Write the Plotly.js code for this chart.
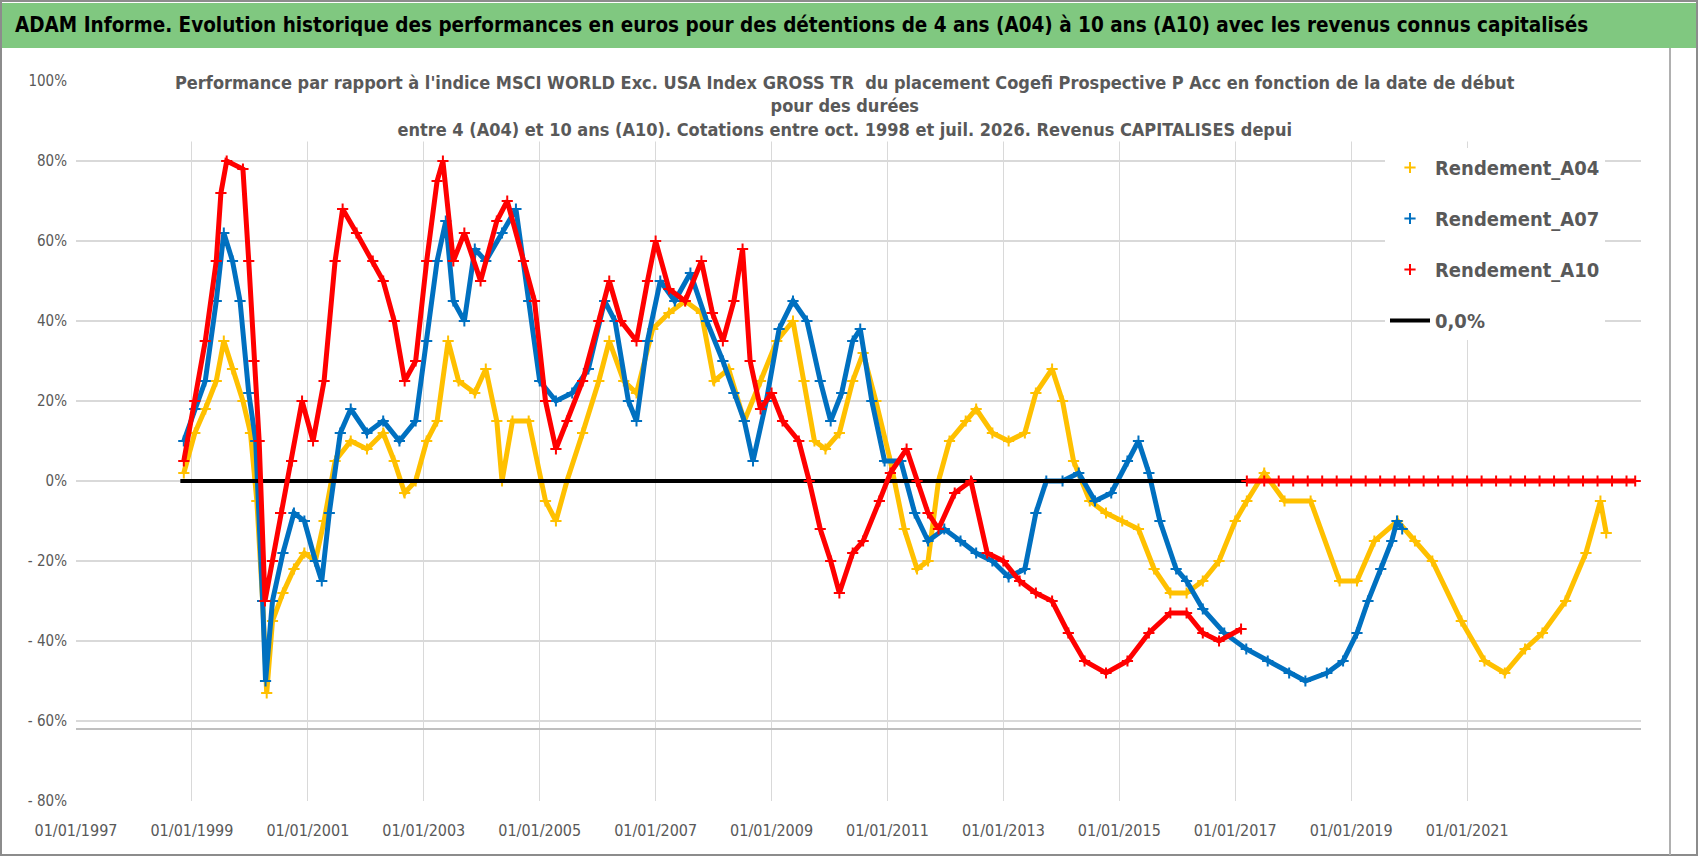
<!DOCTYPE html>
<html>
<head>
<meta charset="utf-8">
<script src="https://cdn.plot.ly/plotly-3.0.1.min.js"></script>
<style>body{margin:0;background:#fff}#chart{width:1698px;height:856px}</style>
</head>
<body>
<div id="chart"></div>
<script>
// values, x in decimal years, y in %
var a04X = [1998.86,1999.05,1999.23,1999.42,1999.55,1999.7,1999.88,2000.01,2000.12,2000.22,2000.29,2000.39,2000.57,2000.76,2000.94,2001.13,2001.28,2001.47,2001.74,2002.02,2002.3,2002.49,2002.67,2002.86,2003.05,2003.23,2003.42,2003.6,2003.88,2004.07,2004.26,2004.35,2004.53,2004.81,2005.1,2005.28,2005.47,2005.74,2006.02,2006.2,2006.45,2006.67,2006.95,2007.23,2007.51,2007.79,2008.01,2008.26,2008.53,2008.81,2009.09,2009.37,2009.56,2009.74,2009.93,2010.17,2010.4,2010.58,2010.8,2011.05,2011.29,2011.51,2011.7,2011.88,2012.07,2012.35,2012.53,2012.81,2013.09,2013.37,2013.56,2013.84,2014.02,2014.21,2014.49,2014.77,2015.05,2015.33,2015.6,2015.88,2016.16,2016.44,2016.72,2017.0,2017.2,2017.5,2017.85,2018.3,2018.8,2019.1,2019.4,2019.8,2020.1,2020.4,2020.9,2021.3,2021.65,2022.0,2022.3,2022.7,2023.05,2023.3,2023.4];
var a04Y = [2,12,18,25,35,28,20,12,-5,-30,-53,-35,-28,-22,-18,-20,-10,5,10,8,12,5,-3,0,10,15,35,25,22,28,15,0,15,15,-5,-10,0,12,25,35,25,22,38,42,45,42,25,28,15,25,35,40,25,10,8,12,25,32,20,5,-12,-22,-20,0,10,15,18,12,10,12,22,28,20,5,-5,-8,-10,-12,-22,-28,-28,-25,-20,-10,-5,2,-5,-5,-25,-25,-15,-10,-15,-20,-35,-45,-48,-42,-38,-30,-18,-5,-13];

var a07X = [1998.86,1999.05,1999.23,1999.42,1999.55,1999.7,1999.83,1999.98,2000.1,2000.22,2000.27,2000.39,2000.57,2000.76,2000.94,2001.13,2001.24,2001.37,2001.56,2001.74,2002.02,2002.3,2002.58,2002.86,2003.05,2003.23,2003.38,2003.51,2003.7,2003.88,2004.07,2004.35,2004.59,2004.81,2005.0,2005.28,2005.56,2005.84,2006.12,2006.3,2006.53,2006.67,2006.86,2007.08,2007.33,2007.6,2007.88,2008.16,2008.35,2008.53,2008.68,2008.91,2009.13,2009.37,2009.61,2009.84,2010.02,2010.21,2010.4,2010.53,2010.73,2010.95,2011.23,2011.47,2011.7,2011.98,2012.26,2012.53,2012.81,2013.09,2013.37,2013.56,2013.74,2014.02,2014.3,2014.58,2014.86,2015.14,2015.33,2015.51,2015.7,2015.98,2016.16,2016.44,2016.81,2017.19,2017.56,2017.93,2018.21,2018.58,2018.86,2019.1,2019.29,2019.51,2019.7,2019.79,2019.88];
var a07Y = [10,18,25,45,62,55,45,22,10,-30,-50,-30,-18,-8,-10,-20,-25,-8,12,18,12,15,10,15,35,55,65,45,40,58,55,62,68,45,25,20,22,28,45,40,20,15,35,50,45,52,40,30,22,15,5,20,38,45,40,25,15,22,35,38,20,5,5,-8,-15,-12,-15,-18,-20,-24,-22,-8,0,0,2,-5,-3,5,10,2,-10,-22,-25,-32,-38,-42,-45,-48,-50,-48,-45,-38,-30,-22,-15,-10,-12];

var a10X = [1998.86,1999.05,1999.23,1999.42,1999.5,1999.6,1999.88,1999.98,2000.07,2000.16,2000.26,2000.39,2000.53,2000.72,2000.9,2001.09,2001.28,2001.47,2001.6,2001.84,2002.12,2002.3,2002.49,2002.67,2002.86,2003.05,2003.23,2003.33,2003.51,2003.7,2003.98,2004.26,2004.44,2004.72,2004.91,2005.1,2005.28,2005.47,2005.74,2006.02,2006.2,2006.4,2006.67,2006.86,2007.0,2007.23,2007.51,2007.79,2007.98,2008.16,2008.35,2008.5,2008.63,2008.81,2009.0,2009.19,2009.47,2009.65,2009.84,2010.02,2010.17,2010.4,2010.58,2010.86,2011.05,2011.33,2011.51,2011.7,2011.88,2012.16,2012.44,2012.72,2013.0,2013.28,2013.56,2013.84,2014.12,2014.4,2014.77,2015.14,2015.51,2015.88,2016.16,2016.44,2016.72,2017.1];
var a10Y = [5,20,35,55,72,80,78,55,30,10,-30,-20,-8,5,20,10,25,55,68,62,55,50,40,25,30,55,75,80,55,62,50,65,70,55,45,20,8,15,25,40,50,40,35,50,60,48,45,55,42,35,45,58,30,18,22,15,10,0,-12,-20,-28,-18,-15,-5,2,8,0,-8,-12,-3,0,-18,-20,-25,-28,-30,-38,-45,-48,-45,-38,-33,-33,-38,-40,-37];
// A10 after mid-2017: flat at 0
var a10ZeroX = [2017.2,2017.5,2017.75,2018.0,2018.25,2018.5,2018.75,2019.0,2019.25,2019.5,2019.75,2020.0,2020.25,2020.5,2020.75,2021.0,2021.25,2021.5,2021.75,2022.0,2022.25,2022.5,2022.75,2023.0,2023.25,2023.5,2023.75,2023.9];
var a10ZeroY = [0,0,0,0,0,0,0,0,0,0,0,0,0,0,0,0,0,0,0,0,0,0,0,0,0,0,0,0];

var zeroX = [1998.8, 2023.9];
var zeroY = [0, 0];

var xTickVals = [1997,1999,2001,2003,2005,2007,2009,2011,2013,2015,2017,2019,2021];
var xTickText = ['01/01/1997','01/01/1999','01/01/2001','01/01/2003','01/01/2005','01/01/2007','01/01/2009','01/01/2011','01/01/2013','01/01/2015','01/01/2017','01/01/2019','01/01/2021'];
var yTickVals = [100,80,60,40,20,0,-20,-40,-60,-80];
var yTickText = ['100%','80%','60%','40%','20%','0%','- 20%','- 40%','- 60%','- 80%'];

var mainTitle = 'ADAM Informe. Evolution historique des performances en euros pour des détentions de 4 ans (A04) à 10 ans (A10) avec les revenus connus capitalisés';
var subTitle = "Performance par rapport à l'indice MSCI WORLD Exc. USA Index GROSS TR  du placement Cogefi Prospective P Acc en fonction de la date de début<br>pour des durées<br>entre 4 (A04) et 10 ans (A10). Cotations entre oct. 1998 et juil. 2026. Revenus CAPITALISES depui";

var W = 1698, H = 856;
var M = {l: 76, r: 57, t: 81, b: 55};
var pw = W - M.l - M.r, ph = H - M.t - M.b;
function px(x) { return (x - M.l) / pw }
function py(y) { return 1 - (y - M.t) / ph }

var yellow = '#FFC000', blue = '#0070C0', red = '#FF0000';
var font = 'DejaVu Sans Condensed, sans-serif';

function band(name, xs, ys, color) {
    return {x: xs, y: ys, name: name, type: 'scatter', mode: 'lines', showlegend: false,
        line: {color: color, width: 5}, hoverinfo: 'skip', legendgroup: name}
}
function pts(name, xs, ys, color, show) {
    return {x: xs, y: ys, name: name, type: 'scatter', mode: 'markers', legendgroup: name,
        showlegend: show !== false,
        marker: {symbol: 'cross-thin', size: 8, line: {color: color, width: 2}, color: color}}
}

var data = [
    band('Rendement_A04', a04X, a04Y, yellow),
    pts('Rendement_A04', a04X, a04Y, yellow),
    band('Rendement_A07', a07X, a07Y, blue),
    pts('Rendement_A07', a07X, a07Y, blue),
    {x: zeroX, y: zeroY, name: '0,0%', type: 'scatter', mode: 'lines', legendgroup: 'zero',
        line: {color: '#000', width: 4}, legendrank: 1004},
    band('Rendement_A10', a10X, a10Y, red),
    pts('Rendement_A10', a10X, a10Y, red),
    band('Rendement_A10', a10ZeroX, a10ZeroY, red),
    pts('Rendement_A10', a10ZeroX, a10ZeroY, red, false)
];
data[1].legendrank = 1001; data[3].legendrank = 1002; data[6].legendrank = 1003;

var layout = {
    width: W, height: H, margin: M,
    paper_bgcolor: '#fff', plot_bgcolor: '#fff',
    font: {family: font, color: '#595959'},
    showlegend: true,
    legend: {x: px(1385), y: py(148), xanchor: 'left', yanchor: 'top', bgcolor: '#fff',
        font: {size: 20, color: '#595959', family: font, weight: 'bold'},
        tracegroupgap: 22, itemwidth: 40},
    xaxis: {range: [1997, 2024], tickvals: xTickVals, ticktext: xTickText, showgrid: true,
        gridcolor: '#d9d9d9', gridwidth: 1, zeroline: false, showline: false, ticks: '',
        ticklabelstandoff: 18, tickfont: {size: 16, color: '#595959'}},
    yaxis: {range: [-80, 100], tickvals: yTickVals, ticktext: yTickText, showgrid: true,
        gridcolor: '#d9d9d9', gridwidth: 2, zeroline: false, showline: false, ticks: '',
        ticklabelstandoff: 8, tickfont: {size: 15, color: '#595959'}},
    shapes: [
        {type: 'rect', xref: 'paper', yref: 'paper', x0: px(0), x1: px(W), y0: py(48), y1: py(3),
            fillcolor: '#80c880', line: {width: 0}, layer: 'below'},
        {type: 'rect', xref: 'paper', yref: 'paper', x0: px(1), x1: px(W - 1), y0: py(H - 1), y1: py(1),
            line: {color: '#8c8c8c', width: 2}},
        {type: 'line', xref: 'paper', yref: 'paper', x0: px(1670), x1: px(1670), y0: py(H - 1), y1: py(48),
            line: {color: '#b0b0b0', width: 2}},
        {type: 'line', xref: 'paper', yref: 'y', x0: 0, x1: 1, y0: -62, y1: -62,
            line: {color: '#bfbfbf', width: 2}}
    ],
    annotations: [
        {text: '<b>' + mainTitle + '</b>', xref: 'paper', yref: 'paper', x: px(13), y: py(25),
            xanchor: 'left', yanchor: 'middle', showarrow: false,
            font: {size: 20.5, color: '#000', family: font}},
        {text: '<b>' + subTitle + '</b>', xref: 'paper', yref: 'paper', x: px(845), y: py(70),
            xanchor: 'center', yanchor: 'top', showarrow: false, bgcolor: '#fff',
            font: {size: 18, color: '#595959', family: font}}
    ]
};

Plotly.newPlot('chart', data, layout, {displayModeBar: false, staticPlot: true});
</script>
</body>
</html>
